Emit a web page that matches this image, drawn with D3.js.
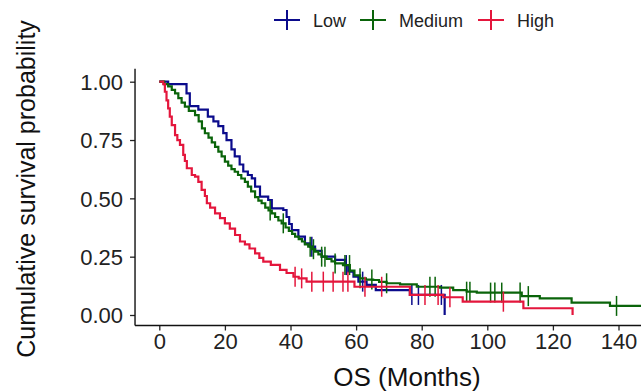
<!DOCTYPE html>
<html>
<head>
<meta charset="utf-8">
<script src="https://cdn.jsdelivr.net/npm/d3@7"></script>
<style>
  body { margin: 0; background: #fff; }
  svg { display: block; font-family: 'Liberation Sans', Arial, sans-serif; }
</style>
</head>
<body>
<div id="chart"></div>
<script>
const width = 641;
const height = 392;

// Kaplan-Meier steps: [months, survival]
const groups = ['Low', 'Medium', 'High'];
const colors = ['#0b0b8c', '#0a640a', '#e4163c'];

const lowSteps = [
  [0, 1], [2.7, 0.99], [8.3, 0.95], [9.3, 0.895], [11.9, 0.88], [14.8, 0.85],
  [16.5, 0.83], [18, 0.81], [19.5, 0.78], [20.5, 0.75], [22, 0.71], [23, 0.68],
  [24.5, 0.645], [25.6, 0.615], [27, 0.6], [28.2, 0.586], [29.2, 0.55], [30.7, 0.507],
  [33.2, 0.493], [34.3, 0.457], [37.8, 0.45], [38.8, 0.42], [39.6, 0.39], [40.4, 0.364],
  [42.4, 0.336], [44.4, 0.307], [46, 0.293], [47.5, 0.275], [49.5, 0.25], [53.6, 0.236],
  [56.6, 0.214], [57.6, 0.186], [59.2, 0.164], [60.7, 0.143], [63.2, 0.129], [66, 0.107],
  [76.4, 0.086], [87, 0]
];
const mediumSteps = [
  [0, 1], [1.5, 0.99], [2.7, 0.98], [3.8, 0.965], [4.8, 0.95], [5.8, 0.93], [6.8, 0.91],
  [7.8, 0.893], [9, 0.875], [10.9, 0.857], [12, 0.83], [13, 0.8], [13.9, 0.779], [15, 0.76],
  [16, 0.74], [17, 0.721], [18, 0.7], [19, 0.68], [20, 0.657], [21, 0.64], [22, 0.625],
  [23, 0.614], [24, 0.6], [25, 0.585], [26.1, 0.571], [27, 0.55], [28, 0.53], [29.2, 0.505],
  [30.2, 0.49], [31.2, 0.479], [32.3, 0.46], [33.3, 0.448], [34.3, 0.436], [35.3, 0.42],
  [36.3, 0.405], [37.3, 0.393], [38.5, 0.375], [39.5, 0.36], [40.5, 0.348], [41.4, 0.336],
  [42.5, 0.325], [43.5, 0.315], [44.4, 0.303], [45.4, 0.293], [46.5, 0.282], [47.5, 0.272],
  [48.5, 0.26], [49.5, 0.25], [51, 0.24], [52.5, 0.23], [53.6, 0.221], [56, 0.214],
  [58.1, 0.19], [59.5, 0.17], [61.2, 0.157], [63, 0.152], [65.2, 0.15], [67, 0.142],
  [69.3, 0.136], [73.4, 0.131], [78.5, 0.121], [85.6, 0.117], [89.6, 0.107], [93.7, 0.1],
  [96.8, 0.096], [110.5, 0.081], [116, 0.071], [125.7, 0.053], [137.4, 0.039]
];
const highSteps = [
  [0, 1], [1.2, 0.99], [1.7, 0.957], [2.2, 0.92], [2.7, 0.886], [3.2, 0.85], [3.8, 0.814],
  [4.8, 0.771], [5.5, 0.75], [6.3, 0.729], [7.3, 0.686], [7.8, 0.66], [8.4, 0.629],
  [9.9, 0.6], [10.9, 0.593], [11.9, 0.571], [12.9, 0.536], [13.9, 0.51], [14.5, 0.479],
  [15.5, 0.46], [17, 0.436], [18.5, 0.415], [20, 0.393], [21.5, 0.37], [23.1, 0.343],
  [24.6, 0.315], [26.1, 0.303], [27.5, 0.285], [29.2, 0.264], [30.5, 0.245], [31.7, 0.229],
  [34, 0.215], [36.8, 0.193], [38.8, 0.18], [40.9, 0.164], [42.5, 0.157], [44.9, 0.143],
  [59.5, 0.121], [76.4, 0.086], [86.6, 0.076], [92.5, 0.057], [111, 0.029], [126, 0]
];
// last follow-up time of each group
const lastTimes = [87, 148, 126];

// censored times ("+" marks)
const lowCensor = [46.5, 57, 62, 77, 79, 86];
const mediumCensor = [33.8, 37.8, 46, 47, 49.5, 50.5, 53.6, 56.6, 58, 61.2, 64.8, 69.3,
  82.5, 84.1, 93.7, 94.7, 101, 102.3, 104.4, 110, 112.5, 139.4];
const highCensor = [41.4, 43.4, 46.5, 50, 53, 56, 57.5, 62.7, 67.8, 81, 85, 88.6, 104.9];

const xTicks = [0, 20, 40, 60, 80, 100, 120, 140];
const yTicks = [0, 0.25, 0.5, 0.75, 1];

const steps = [lowSteps, mediumSteps, highSteps];
const censors = [lowCensor, mediumCensor, highCensor];

const svg = d3.select('#chart').append('svg')
  .attr('width', width)
  .attr('height', height);

const x = d3.scaleLinear().domain([0, 140]).range([159.3, 618.5]);
const y = d3.scaleLinear().domain([0, 1]).range([315, 81.7]);

// ggplot-like expanded panel
const xMin = -7.4, xMax = 155.4;
const yMin = -0.045, yMax = 1.055;

// Axes
const yAxis = svg.append('g')
  .attr('transform', `translate(${x(xMin)},0)`)
  .call(d3.axisLeft(y).tickValues(yTicks).tickFormat(d3.format('.2f')).tickSize(5).tickSizeOuter(0));
const xAxis = svg.append('g')
  .attr('transform', `translate(0,${y(yMin)})`)
  .call(d3.axisBottom(x).tickValues(xTicks).tickSize(5).tickSizeOuter(0));

[xAxis, yAxis].forEach((g) => {
  g.select('.domain').remove();
  g.selectAll('.tick line').attr('stroke', '#222').attr('stroke-width', 1.3);
  g.selectAll('.tick text')
    .attr('fill', '#222')
    .style('font-size', '22px');
});
yAxis.selectAll('.tick text').attr('x', -12).attr('dy', '0.36em');
xAxis.selectAll('.tick text').attr('y', 8);

// spines
svg.append('line')
  .attr('x1', x(xMin)).attr('x2', x(xMin))
  .attr('y1', y(yMax)).attr('y2', y(yMin))
  .attr('stroke', '#111').attr('stroke-width', 1.4);
svg.append('line')
  .attr('x1', x(xMin)).attr('x2', x(xMax))
  .attr('y1', y(yMin)).attr('y2', y(yMin))
  .attr('stroke', '#111').attr('stroke-width', 1.4);

// Survival curves
const line = d3.line()
  .x((d) => x(d[0]))
  .y((d) => y(d[1]))
  .curve(d3.curveStepAfter);

const survAt = (s, t) => {
  let v = 1;
  s.forEach((d) => { if (d[0] <= t) v = d[1]; });
  return v;
};

groups.forEach((g, i) => {
  const s = steps[i];
  const pts = s.concat([[lastTimes[i], s[s.length - 1][1]]]);
  svg.append('path')
    .attr('d', line(pts))
    .attr('fill', 'none')
    .attr('stroke', colors[i])
    .attr('stroke-width', 2.2);

  svg.selectAll(`.censor-${i}`)
    .data(censors[i])
    .enter()
    .append('line')
    .attr('class', `censor-${i}`)
    .attr('x1', (t) => x(t))
    .attr('x2', (t) => x(t))
    .attr('y1', (t) => y(survAt(s, t)) - 10)
    .attr('y2', (t) => y(survAt(s, t)) + 10)
    .attr('stroke', colors[i])
    .attr('stroke-width', 1.5);
});

// Axis titles
svg.append('text')
  .attr('x', 407)
  .attr('y', 386)
  .attr('text-anchor', 'middle')
  .attr('fill', '#111')
  .style('font-size', '26px')
  .text('OS (Months)');

svg.append('text')
  .attr('transform', `translate(35,189) rotate(-90)`)
  .attr('text-anchor', 'middle')
  .attr('fill', '#111')
  .style('font-size', '25px')
  .text('Cumulative survival probability');

// Legend
const legendX = [287, 373, 491];
const legend = svg.selectAll('.legend')
  .data(groups)
  .enter()
  .append('g')
  .attr('class', 'legend')
  .attr('transform', (d, i) => `translate(${legendX[i]},20)`);
legend.append('line')
  .attr('x1', -13).attr('x2', 13).attr('y1', 0).attr('y2', 0)
  .attr('stroke', (d, i) => colors[i]).attr('stroke-width', 2);
legend.append('line')
  .attr('x1', 0).attr('x2', 0).attr('y1', -10).attr('y2', 10)
  .attr('stroke', (d, i) => colors[i]).attr('stroke-width', 2);
legend.append('text')
  .attr('x', 26)
  .attr('y', 6.5)
  .attr('fill', '#222')
  .style('font-size', '18px')
  .text((d) => d);
</script>
</body>
</html>
